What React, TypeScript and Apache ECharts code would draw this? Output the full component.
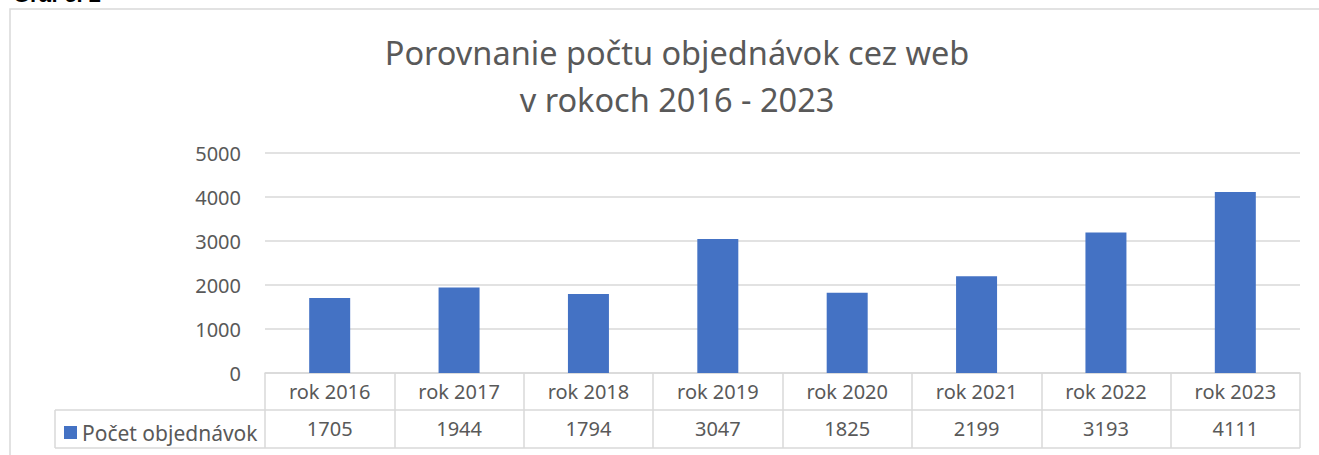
import React, { useEffect, useRef } from "react";
import * as echarts from "echarts";

const categories = ["rok 2016", "rok 2017", "rok 2018", "rok 2019", "rok 2020", "rok 2021", "rok 2022", "rok 2023"];
const orders = [1705, 1944, 1794, 3047, 1825, 2199, 3193, 4111];
const seriesName = "Počet objednávok";
const titleText = "Porovnanie počtu objednávok cez web\nv rokoch 2016 - 2023";
const captionText = "Graf č. 2";

const FONT = "'Noto Sans', 'Open Sans', sans-serif";
const GRAY = "#595959";
const LINE = "#d9d9d9";

export default function App() {
  const ref = useRef<HTMLDivElement>(null);
  useEffect(() => {
    document.body.style.margin = "0";
    const chart = echarts.init(ref.current!, null, { renderer: "svg" });
    const gl = 265, gr = 1300, gt = 153, gb = 373;
    chart.setOption({
      animation: false,
      backgroundColor: "#ffffff",
      title: {
        text: titleText,
        left: 672,
        textAlign: "center",
        top: 24,
        textStyle: { fontFamily: FONT, fontSize: 32.5, fontWeight: "normal", color: GRAY, lineHeight: 47 },
      },
      legend: {
        left: 59,
        top: 417,
        icon: "rect",
        itemWidth: 13,
        itemHeight: 13,
        itemGap: 6,
        textStyle: { fontFamily: FONT, fontSize: 21, color: GRAY, padding: [0, 0, 0, 0] },
        data: [seriesName],
      },
      grid: { left: gl, right: 1319 - gr, top: gt, bottom: 455 - gb, containLabel: false },
      xAxis: [
        {
          type: "category",
          data: categories,
          position: "bottom",
          axisLine: { show: true, lineStyle: { color: LINE, width: 1.5 } },
          axisTick: { show: true, alignWithLabel: false, length: 75, lineStyle: { color: LINE, width: 1.5 } },
          axisLabel: { margin: 8, fontFamily: FONT, fontSize: 20, color: GRAY, lineHeight: 20 },
        },
        {
          type: "category",
          data: orders.map(String),
          position: "bottom",
          offset: 36,
          axisLine: { show: false },
          axisTick: { show: false },
          axisLabel: { margin: 9, fontFamily: FONT, fontSize: 20, color: GRAY, lineHeight: 20 },
        },
      ],
      yAxis: {
        type: "value",
        min: 0,
        max: 5000,
        interval: 1000,
        axisLine: { show: false },
        axisTick: { show: false },
        axisLabel: { margin: 24, fontFamily: FONT, fontSize: 20, color: GRAY, formatter: (v: number) => String(v) },
        splitLine: { lineStyle: { color: LINE, width: 1.5 } },
      },
      series: [
        {
          name: seriesName,
          type: "bar",
          data: orders,
          barWidth: 41,
          itemStyle: { color: "#4472c4" },
        },
      ],
      graphic: [
        {
          type: "rect",
          shape: { x: 10, y: 9, width: 1400, height: 500 },
          style: { fill: "none", stroke: LINE, lineWidth: 1.5 },
          silent: true,
        },
        {
          type: "text",
          x: 13,
          y: 5,
          style: {
            text: captionText,
            fontFamily: "'Liberation Sans', sans-serif",
            fontWeight: "bold",
            fontSize: 22,
            fill: "#000000",
            verticalAlign: "bottom",
          },
        },
        {
          type: "line",
          shape: { x1: 55, y1: 410, x2: gr, y2: 410 },
          style: { stroke: LINE, lineWidth: 1.5 },
        },
        {
          type: "line",
          shape: { x1: 55, y1: 448, x2: gr, y2: 448 },
          style: { stroke: LINE, lineWidth: 1.5 },
        },
        {
          type: "line",
          shape: { x1: 55, y1: 410, x2: 55, y2: 448 },
          style: { stroke: LINE, lineWidth: 1.5 },
        },
      ],
    });
    return () => chart.dispose();
  }, []);
  return <div ref={ref} style={{ width: 1319, height: 455 }} />;
}
